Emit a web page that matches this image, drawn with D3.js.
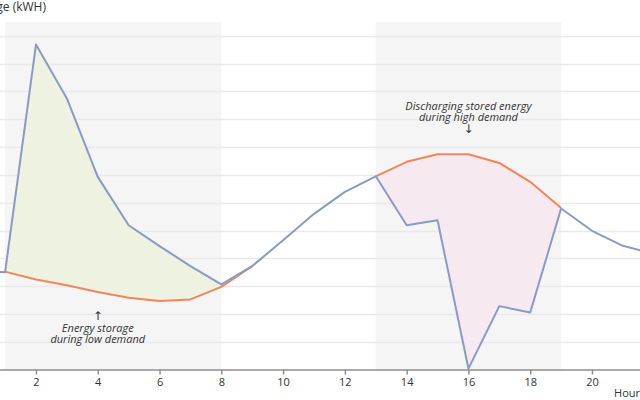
<!DOCTYPE html>
<html>
<head>
<meta charset="utf-8">
<script src="https://cdn.jsdelivr.net/npm/d3@7"></script>
<style>
  html, body { margin: 0; padding: 0; background: #fff; }
  svg { display: block; font-family: "Open Sans", "Noto Sans", sans-serif; }
</style>
</head>
<body>
<svg id="chart" width="640" height="400"></svg>
<script>
const hours = [0,1,2,3,4,5,6,7,8,9,10,11,12,13,14,15,16,17,18,19,20,21,22,23];
const usage = [35.7,35.0,116.9,97.5,69.3,51.9,44.4,37.2,30.6,37.2,46.5,56.0,63.9,69.5,51.9,53.7,0.3,22.8,20.5,57.9,49.9,44.5,41.6,39.0];
const balanced = [null,35.2,32.4,30.3,27.9,25.8,24.6,25.2,29.7,37.2,null,null,null,69.5,74.7,77.4,77.4,74.3,67.5,58.1,null,null,null,null];
const bands = [[1,8],[13,19]];
const xTicks = [0,2,4,6,8,10,12,14,16,18,20,22];
const yTicks = [0,10,20,30,40,50,60,70,80,90,100,110,120];
const annotations = [
  {hour: 4, lines: ["Energy storage","during low demand"], arrow: "↑", pos: "below"},
  {hour: 16, lines: ["Discharging stored energy","during high demand"], arrow: "↓", pos: "above"}
];

const svg = d3.select("#chart");
const x = d3.scaleLinear().domain([0, 23]).range([-25.8, -25.8 + 30.89 * 23]);
const y = d3.scaleLinear().domain([0, 125]).range([369.5, 22]);

// bands
svg.append("g").selectAll("rect").data(bands).join("rect")
  .attr("x", d => x(d[0])).attr("width", d => x(d[1]) - x(d[0]))
  .attr("y", y(125)).attr("height", y(0) - y(125))
  .attr("fill", "#f5f5f5");

// grid
svg.append("g").selectAll("line").data(yTicks.filter(t => t > 0)).join("line")
  .attr("x1", -60).attr("x2", 700)
  .attr("y1", d => Math.round(y(d)) + 0.5).attr("y2", d => Math.round(y(d)) + 0.5)
  .attr("stroke", "#e9e9e9").attr("stroke-width", 1.5);

// y labels (left of the visible area, as in the cropped reference)
svg.append("g").selectAll("text").data(yTicks).join("text")
  .attr("x", -40).attr("y", d => y(d) + 4).attr("text-anchor", "end")
  .attr("font-size", 11).attr("fill", "#333").text(d => d);

// fills
const idx = hours.map((h, i) => i);
const area = d3.area()
  .x(i => x(hours[i])).y0(i => y(balanced[i])).y1(i => y(usage[i]));
const fills = [{range: bands[0], color: "#eef2e1"}, {range: bands[1], color: "#f6e9f0"}];
fills.forEach(f => {
  const pts = idx.filter(i => hours[i] >= f.range[0] && hours[i] <= f.range[1]);
  svg.append("path").attr("d", area(pts)).attr("fill", f.color);
});

// orange line
const lineB = d3.line().defined(i => balanced[i] !== null)
  .x(i => x(hours[i])).y(i => y(balanced[i]));
svg.append("path").attr("d", lineB(idx)).attr("fill", "none")
  .attr("stroke", "#f4855a").attr("stroke-width", 2).attr("stroke-linejoin", "round");

// blue line
const lineU = d3.line().x(i => x(hours[i])).y(i => y(usage[i]));
svg.append("path").attr("d", lineU(idx)).attr("fill", "none")
  .attr("stroke", "#8a9ac6").attr("stroke-width", 2).attr("stroke-linejoin", "round");

// x axis
const xAxis = d3.axisBottom(x).tickValues(xTicks).tickSize(5).tickPadding(4);
const gx = svg.append("g").attr("transform", `translate(0,${y(0)})`).call(xAxis);
gx.select(".domain").attr("stroke", "#8f8f8f").attr("stroke-width", 1.5);
gx.selectAll(".tick line").attr("stroke", "#8f8f8f").attr("stroke-width", 1.5);
gx.selectAll(".tick text").attr("font-size", 11).attr("fill", "#333")
  .attr("font-family", "'Open Sans', 'Noto Sans', sans-serif");

svg.append("text").attr("x", 640).attr("y", 397).attr("text-anchor", "end")
  .attr("font-size", 11).attr("fill", "#333").text("Hour");

svg.append("text").attr("x", 46).attr("y", 11).attr("text-anchor", "end")
  .attr("font-size", 12).attr("fill", "#333").text("Electricity usage (kWH)");

// annotations
annotations.forEach(a => {
  const cx = x(a.hour);
  const g = svg.append("g").attr("font-size", 11).attr("font-style", "italic")
    .attr("fill", "#333").attr("text-anchor", "middle");
  const arrow = t => t.attr("font-size", 12).attr("font-style", "normal")
    .attr("font-family", "'DejaVu Sans', sans-serif").text(a.arrow);
  if (a.pos === "below") {
    g.append("text").attr("x", cx).attr("y", 320).call(arrow);
    g.append("text").attr("x", cx).attr("y", 332).text(a.lines[0]);
    g.append("text").attr("x", cx).attr("y", 343).text(a.lines[1]);
  } else {
    g.append("text").attr("x", cx).attr("y", 110).text(a.lines[0]);
    g.append("text").attr("x", cx).attr("y", 121).text(a.lines[1]);
    g.append("text").attr("x", cx).attr("y", 133).call(arrow);
  }
});
</script>
</body>
</html>
